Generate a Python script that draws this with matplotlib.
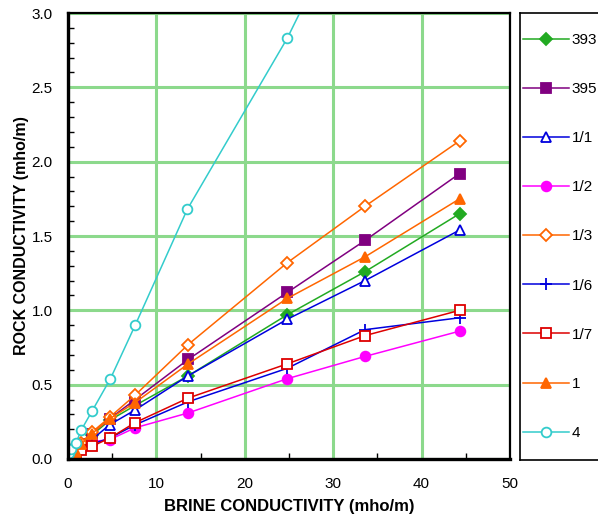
import numpy as np
import matplotlib
matplotlib.use('Agg')
from matplotlib import pyplot as plt

plt.rcParams['font.family'] = ['Liberation Sans', 'DejaVu Sans']

# brine conductivity (x) for the core samples
x = [0.2, 0.9, 1.5, 2.7, 4.7, 7.6, 13.6, 24.8, 33.6, 44.3]
x_4 = [0.15, 0.35, 0.9, 1.5, 2.7, 4.8, 7.6, 13.5, 24.8, 33.6]

# rock conductivity per sample
y_393 = [0.02, 0.06, 0.10, 0.16, 0.26, 0.36, 0.56, 0.97, 1.26, 1.65]
y_395 = [0.02, 0.06, 0.10, 0.17, 0.27, 0.40, 0.67, 1.12, 1.47, 1.92]
y_1_1 = [0.01, 0.05, 0.08, 0.13, 0.23, 0.33, 0.56, 0.94, 1.20, 1.54]
y_1_2 = [0.01, 0.04, 0.07, 0.117, 0.13, 0.21, 0.31, 0.54, 0.69, 0.86]
y_1_3 = [0.02, 0.06, 0.11, 0.18, 0.28, 0.43, 0.77, 1.32, 1.70, 2.14]
y_1_6 = [0.01, 0.04, 0.07, 0.10, 0.14, 0.23, 0.385, 0.61, 0.87, 0.95]
y_1_7 = [0.01, 0.04, 0.06, 0.085, 0.14, 0.245, 0.41, 0.64, 0.83, 1.00]
y_1 = [0.00, 0.05, 0.10, 0.17, 0.27, 0.38, 0.64, 1.08, 1.36, 1.75]
y_4 = [0.04, 0.067, 0.107, 0.195, 0.32, 0.54, 0.90, 1.68, 2.83, 3.89]

labels = ['393', '395', '1/1', '1/2', '1/3', '1/6', '1/7', '1', '4']

# (x, y, color, marker, filled)
series = [
    (x, y_393, '#22aa22', 'D', True),
    (x, y_395, '#800080', 's', True),
    (x, y_1_1, '#0000dd', '^', False),
    (x, y_1_2, '#ff00ff', 'o', True),
    (x, y_1_3, '#ff6600', 'D', False),
    (x, y_1_6, '#0000dd', '+', True),
    (x, y_1_7, '#dd0000', 's', False),
    (x, y_1, '#ff6600', '^', True),
    (x_4, y_4, '#33cccc', 'o', False),
]

fig = plt.figure(figsize=(5.98, 5.18), dpi=100)
ax = fig.add_axes([68/598, 59/518, 442/598, 446/518])

handles = []
for (xs, ys, c, m, filled), lab in zip(series, labels):
    ms = 6 if m == 'D' else 7
    if m == '+':
        ms = 9
    fc = c if filled else 'white'
    ln, = ax.plot(xs, ys, color=c, lw=1.1, marker=m, ms=ms, mfc=fc, mec=c,
                  mew=1.3, label=lab)
    handles.append(ln)

ax.set_xlim(0, 50)
ax.set_ylim(0, 3.0)
ax.set_xticks([0, 10, 20, 30, 40, 50])
ax.set_yticks(np.arange(0, 3.01, 0.5))
ax.set_yticklabels(['%.1f' % v for v in np.arange(0, 3.01, 0.5)])
ax.set_xticks(np.arange(0, 50, 5), minor=True)
ax.set_yticks(np.arange(0, 3.0, 0.1), minor=True)
ax.grid(True, which='major', color='#8cd98c', lw=2.2)
ax.set_axisbelow(True)
ax.tick_params(which='major', direction='in', length=0, labelsize=11)
ax.tick_params(axis='y', which='major', pad=11)
ax.tick_params(axis='x', which='major', pad=13)
ax.tick_params(which='minor', direction='in', length=4, width=1)
for side, s in ax.spines.items():
    s.set_color('black')
    s.set_linewidth(2.4 if side in ('left', 'bottom') else 1.6)

ax.set_xlabel('BRINE CONDUCTIVITY (mho/m)', fontsize=12, fontweight='bold', labelpad=6)
ax.set_ylabel('ROCK CONDUCTIVITY (mho/m)', fontsize=11.5, fontweight='bold', labelpad=2)

# legend box on the right
lax = fig.add_axes([520/598, 58/518, 82/598, 447/518])
lax.set_xticks([])
lax.set_yticks([])
for s in lax.spines.values():
    s.set_linewidth(1.2)
lax.legend(handles, labels, loc='center left', frameon=False, fontsize=11,
           labelspacing=2.3, handlelength=3.0, handletextpad=0.2,
           borderaxespad=0.0, borderpad=0.2, bbox_to_anchor=(0.0, 0.5))

fig.savefig('out.png', dpi=100)
